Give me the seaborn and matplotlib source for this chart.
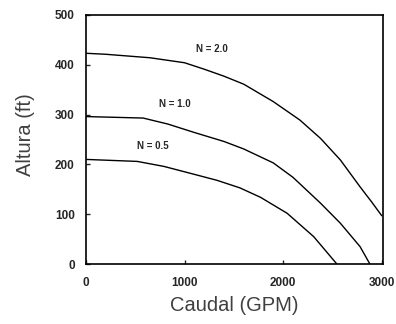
import matplotlib
matplotlib.use("Agg")
import matplotlib.pyplot as plt
import seaborn as sns
import pandas as pd

# Data
caudal_n20 = [0, 200, 650, 1000, 1200, 1400, 1600, 1900, 2170, 2380, 2580, 2780, 2900, 3000]
altura_n20 = [423, 421, 414, 404, 391, 377, 361, 326, 289, 252, 209, 155, 124, 97]
caudal_n10 = [0, 580, 830, 1100, 1400, 1600, 1900, 2100, 2380, 2580, 2780, 2880]
altura_n10 = [296, 293, 281, 264, 246, 231, 203, 174, 122, 82, 35, 0]
caudal_n05 = [0, 520, 790, 1100, 1330, 1560, 1770, 2040, 2310, 2545]
altura_n05 = [210, 206, 196, 180, 168, 153, 134, 102, 55, 0]
labels = ["N = 2.0", "N = 1.0", "N = 0.5"]
label_x = [1276, 904, 683]
label_y = [432, 321, 236]
xticks = [0, 1000, 2000, 3000]
yticks = [0, 100, 200, 300, 400, 500]

rows = []
for lab, xs, ys in zip(labels, [caudal_n20, caudal_n10, caudal_n05],
                       [altura_n20, altura_n10, altura_n05]):
    for x, y in zip(xs, ys):
        rows.append({"curve": lab, "Caudal": x, "Altura": y})
df = pd.DataFrame(rows)

sns.set_style("ticks")
plt.rcParams['font.family'] = ['Liberation Sans', 'DejaVu Sans']
fig = plt.figure(figsize=(3.96, 3.24), dpi=100)
ax = fig.add_axes([0.217, 0.185, 0.75, 0.769])
sns.lineplot(data=df, x="Caudal", y="Altura", units="curve", estimator=None,
             color="black", linewidth=1.0, ax=ax, sort=False)
for lab, x, y in zip(labels, label_x, label_y):
    ax.text(x, y, lab, fontsize=7, fontweight="bold", ha="center", va="center")
ax.set_xlim(0, 3012)
ax.set_ylim(0, 500)
ax.set_xticks(xticks)
ax.set_yticks(yticks)
ax.set_xticklabels([str(t) for t in xticks], fontsize=8.5, fontweight="bold")
ax.set_yticklabels([str(t) for t in yticks], fontsize=8.5, fontweight="bold")
ax.tick_params(axis="y", direction="in", length=3, width=1, pad=8)
ax.tick_params(axis="x", direction="in", length=3, width=1, pad=9)
for s in ax.spines.values():
    s.set_visible(True)
    s.set_linewidth(1.2)
    s.set_color("black")
ax.set_xlabel("Caudal (GPM)", fontsize=14.5, color="#404040")
ax.set_ylabel("Altura (ft)", fontsize=14.5, color="#404040")
ax.xaxis.set_label_coords(0.5, -0.13)
ax.yaxis.set_label_coords(-0.17, 0.52)
fig.savefig("out.png", dpi=100)
